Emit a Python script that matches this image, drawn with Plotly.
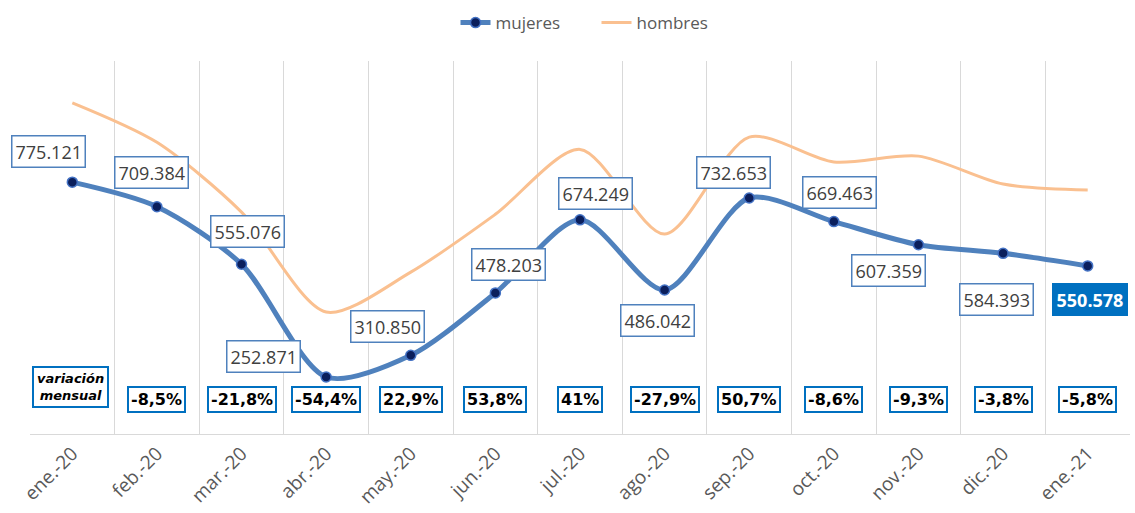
import plotly.graph_objects as go

meses = ["ene.-20", "feb.-20", "mar.-20", "abr.-20", "may.-20", "jun.-20", "jul.-20",
         "ago.-20", "sep.-20", "oct.-20", "nov.-20", "dic.-20", "ene.-21"]
mujeres = [775121, 709384, 555076, 252871, 310850, 478203, 674249,
           486042, 732653, 669463, 607359, 584393, 550578]
hombres = [988000, 882000, 695000, 427000, 534000, 689000, 863000,
           636000, 896000, 829000, 845000, 770000, 754000]
variacion = ["", "-8,5%", "-21,8%", "-54,4%", "22,9%", "53,8%", "41%",
             "-27,9%", "50,7%", "-8,6%", "-9,3%", "-3,8%", "-5,8%"]
etiquetas_mujeres = ["775.121", "709.384", "555.076", "252.871", "310.850", "478.203", "674.249",
                     "486.042", "732.653", "669.463", "607.359", "584.393", "550.578"]

# label offsets (pixels) relative to each point
label_shift = [(-24, 31), (-5, 34), (6, 33), (-63, 20), (-23, 29), (13, 28), (15, 26),
               (-7, -30), (-16, 26), (6, 29), (-30, -26), (-7, -46), (2, -34)]

fig = go.Figure()
fig.add_trace(go.Scatter(
    x=meses, y=hombres, name="hombres", mode="lines",
    line=dict(color="#FAC090", width=3, shape="spline", smoothing=0.8),
    legendrank=2,
))
fig.add_trace(go.Scatter(
    x=meses, y=mujeres, name="mujeres", mode="lines+markers",
    line=dict(color="#4F81BD", width=5, shape="spline", smoothing=0.8),
    marker=dict(color="#0B1F5C", size=10, line=dict(color="#4472C4", width=1.5)),
    legendrank=1,
))

annotations = []
n = len(meses)
for i, (m, v, t) in enumerate(zip(meses, mujeres, etiquetas_mujeres)):
    dx, dy = label_shift[i]
    last = i == n - 1
    annotations.append(dict(
        x=m, y=v, xref="x", yref="y", text=("<b>%s</b>" % t) if last else t,
        showarrow=False, xshift=dx, yshift=dy,
        font=dict(family="Open Sans", size=18,
                  color="white" if last else "#404040"),
        bgcolor="#0070C0" if last else "white",
        bordercolor="#0070C0" if last else "#4F81BD",
        borderwidth=1.5, borderpad=3,
    ))

for i, (m, p) in enumerate(zip(meses, variacion)):
    if not p:
        continue
    annotations.append(dict(
        x=m, y=0.0563, xref="x", yref="paper", text="<b>%s</b>" % p,
        showarrow=False,
        font=dict(family="DejaVu Sans", size=16, color="black"),
        bgcolor="white", bordercolor="#0070C0", borderwidth=2, borderpad=2,
    ))

annotations.append(dict(
    x=meses[0], y=0.0697, xref="x", yref="paper", xshift=-2,
    text="<b><i>variación<br>mensual</i></b>", showarrow=False,
    font=dict(family="DejaVu Sans", size=13, color="black"),
    bgcolor="white", bordercolor="#0070C0", borderwidth=2, borderpad=3,
))

fig.update_layout(
    width=1135, height=513,
    margin=dict(l=30, r=5, t=61, b=79, autoexpand=False),
    plot_bgcolor="white", paper_bgcolor="white",
    font=dict(family="Open Sans", color="#595959"),
    legend=dict(orientation="h", x=0.515, xanchor="center", y=1.15, yanchor="top",
                font=dict(size=17, color="#595959"), traceorder="normal",
                entrywidth=96, entrywidthmode="pixels"),
    annotations=annotations,
    xaxis=dict(type="category", tickson="boundaries", showgrid=True, gridcolor="#d9d9d9",
               gridwidth=1, range=[-0.5, n - 0.5], tickangle=-45, ticks="",
               showline=True, linecolor="#d9d9d9", linewidth=1, automargin=False,
               tickfont=dict(size=19, color="#595959", family="Open Sans")),
    yaxis=dict(range=[100000, 1100000], showgrid=False, showticklabels=False,
               zeroline=False, showline=False, ticks="", automargin=False),
)

fig.write_html("out.html", post_script="document.body.style.margin='0';",
               config={"displayModeBar": False})
